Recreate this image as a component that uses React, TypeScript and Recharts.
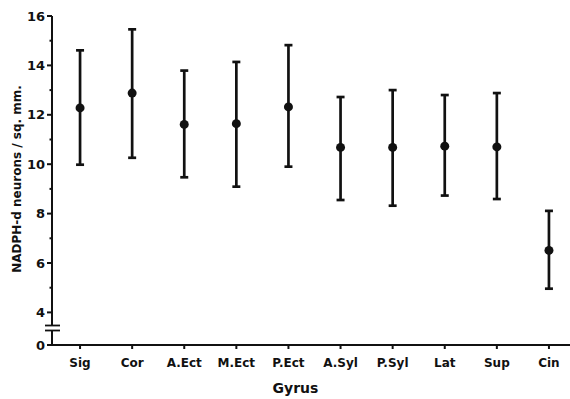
import React from "react";
import { ComposedChart, Line, ErrorBar, XAxis, YAxis, Label } from "recharts";

// NADPH-d neuron density per gyrus (mean ± range)
const gyri = ["Sig", "Cor", "A.Ect", "M.Ect", "P.Ect", "A.Syl", "P.Syl", "Lat", "Sup", "Cin"];
const meanDensity = [12.28, 12.88, 11.61, 11.64, 12.32, 10.68, 10.68, 10.73, 10.7, 6.51];
const upperLimit = [14.61, 15.46, 13.79, 14.14, 14.82, 12.72, 13.0, 12.8, 12.88, 8.11];
const lowerLimit = [9.98, 10.26, 9.47, 9.09, 9.9, 8.55, 8.32, 8.73, 8.59, 4.96];

// axis is broken below 4: the "0" tick sits at this scale position
const ZERO_AT = 2.68;
const yTicks = [ZERO_AT, 4, 5, 6, 7, 8, 9, 10, 11, 12, 13, 14, 15, 16];

const INK = "#111";
const FONT = "'DejaVu Sans', Arial, sans-serif";

const rows = gyri.map((name, i) => ({
  name,
  mean: meanDensity[i],
  err: [meanDensity[i] - lowerLimit[i], upperLimit[i] - meanDensity[i]],
}));

function YTick({ x, y, payload }: any) {
  const v = payload.value;
  const isZero = v === ZERO_AT;
  const major = isZero || v % 2 === 0;
  return (
    <g>
      <line x1={x - (major ? 5 : 2.5)} x2={x} y1={y} y2={y} stroke={INK} strokeWidth={2} />
      {major && (
        <text
          x={x - 7}
          y={y}
          dy="0.36em"
          textAnchor="end"
          fill={INK}
          fontSize={13}
          fontWeight="bold"
          fontFamily={FONT}
        >
          {isZero ? 0 : v}
        </text>
      )}
      {isZero && (
        <g>
          <rect x={x - 2} y={y - 19.5} width={4} height={5} fill="#fff" />
          <line x1={x - 7} x2={x + 8} y1={y - 19.5} y2={y - 19.5} stroke={INK} strokeWidth={1.8} />
          <line x1={x - 7} x2={x + 8} y1={y - 14.5} y2={y - 14.5} stroke={INK} strokeWidth={1.8} />
        </g>
      )}
    </g>
  );
}

export default function App() {
  return (
    <div
      style={{
        position: "absolute",
        left: 0,
        top: 0,
        width: 570,
        height: 399,
        overflow: "hidden",
        background: "#fff",
      }}
    >
      <ComposedChart
        width={575}
        height={399}
        data={rows}
        margin={{ top: 16, right: 0, left: 0, bottom: 0 }}
      >
        <XAxis
          dataKey="name"
          scale="band"
          height={54}
          padding={{ left: 2, right: 0 }}
          axisLine={{ stroke: INK, strokeWidth: 2 }}
          tickLine={{ stroke: INK, strokeWidth: 2 }}
          tickSize={4}
          tickMargin={9}
          interval={0}
          tick={{ fill: INK, fontSize: 12, fontWeight: "bold", fontFamily: FONT }}
        >
          <Label
            content={({ viewBox }: any) => (
              <text
                x={viewBox.x + viewBox.width / 2 - 18}
                y={viewBox.y + 48}
                textAnchor="middle"
                fill={INK}
                fontSize={14}
                fontWeight="bold"
                fontFamily={FONT}
              >
                Gyrus
              </text>
            )}
          />
        </XAxis>
        <YAxis
          type="number"
          width={52}
          domain={[ZERO_AT, 16]}
          ticks={yTicks}
          interval={0}
          axisLine={{ stroke: INK, strokeWidth: 2 }}
          tickLine={false}
          tickSize={0}
          tickMargin={0}
          tick={<YTick />}
        >
          <Label
            content={({ viewBox }: any) => {
              const cx = 16.5;
              const cy = viewBox.y + viewBox.height / 2 - 1.5;
              return (
                <text
                  x={cx}
                  y={cy}
                  transform={`rotate(-90, ${cx}, ${cy})`}
                  textAnchor="middle"
                  dominantBaseline="central"
                  fill={INK}
                  fontSize={12}
                  fontWeight="bold"
                  fontFamily={FONT}
                >
                  NADPH-d neurons / sq. mm.
                </text>
              );
            }}
          />
        </YAxis>
        <Line
          dataKey="mean"
          stroke="none"
          isAnimationActive={false}
          dot={{ r: 4.5, fill: INK, stroke: "none" }}
          activeDot={false}
        >
          <ErrorBar dataKey="err" direction="y" width={4} stroke={INK} strokeWidth={2.7} />
        </Line>
      </ComposedChart>
    </div>
  );
}
